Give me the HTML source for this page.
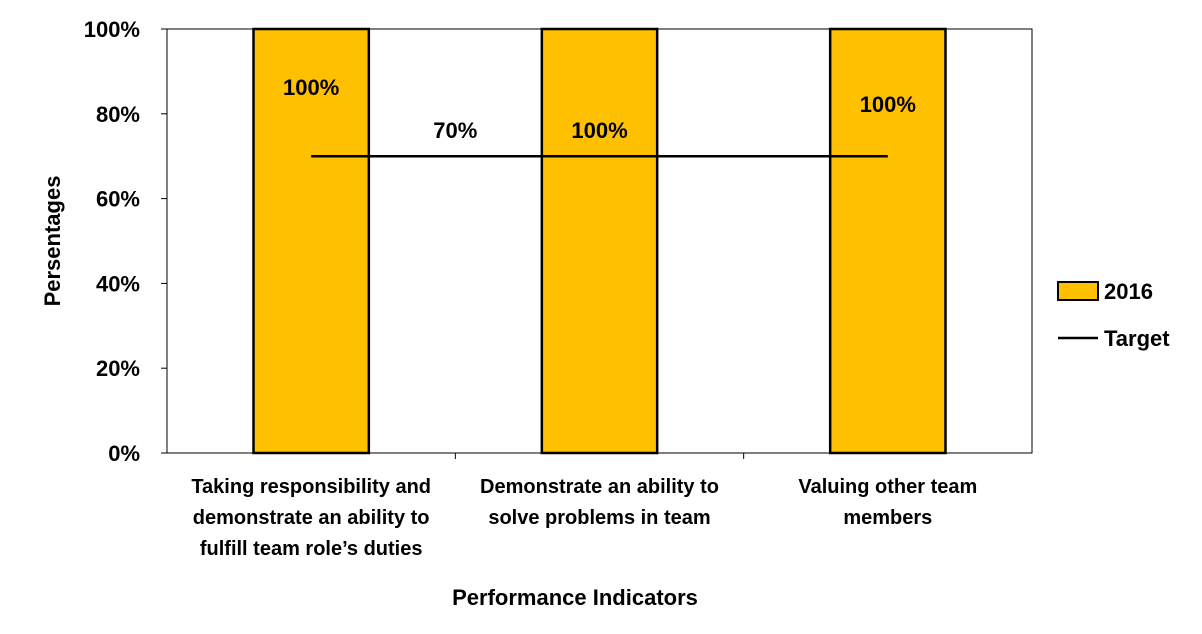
<!DOCTYPE html>
<html><head><meta charset="utf-8">
<style>
body{margin:0;background:#fff;font-family:"Liberation Sans",Arial,sans-serif;}
svg text{font-family:"Liberation Sans",Arial,sans-serif;font-weight:bold;fill:#000;}
</style></head>
<body>
<svg id="chart" width="1202" height="629" viewBox="0 0 1202 629"></svg>
<script>
const categories=[["Taking responsibility and","demonstrate an ability to","fulfill team role’s duties"],["Demonstrate an ability to","solve problems in team"],["Valuing other team","members"]];
const values2016=[100,100,100];
const valueLabels=["100%","100%","100%"];
const targetValue=70;
const targetLabel="70%";
const yTicks=[0,20,40,60,80,100];
const labelDrop=[66,109,83];
const NS="http://www.w3.org/2000/svg";
const svg=document.getElementById('chart');
const L=167,R=1032,T=29,B=453;
const cw=(R-L)/categories.length;
const y=v=>B-(v/100)*(B-T);
const xc=i=>L+cw*(i+0.5);
function mk(tag,attrs,parent){const e=document.createElementNS(NS,tag);for(const k in attrs)e.setAttribute(k,attrs[k]);(parent||svg).appendChild(e);return e;}
const plot=mk('rect',{x:L,y:T,width:R-L,height:B-T,fill:'#fff',stroke:'#000','stroke-width':1});


yTicks.forEach(t=>{
 const tl=mk('line',{x1:L-6,x2:L,y1:y(t),y2:y(t),stroke:'#000'});
 
 
 const tx=mk('text',{x:140,y:y(t)+8,'text-anchor':'end','font-size':22});
 tx.textContent=t+'%';
 
 
});
for(let i=1;i<categories.length;i++){
 const tl=mk('line',{x1:L+cw*i,x2:L+cw*i,y1:B,y2:B+6,stroke:'#000'});
 
 
}
const bw=cw*0.4;
values2016.forEach((v,i)=>{
 const r=mk('rect',{x:xc(i)-bw/2,y:y(v),width:bw,height:B-y(v),fill:'#FFC000',stroke:'#000','stroke-width':2.5});
 
 
 const t=mk('text',{x:xc(i),y:y(v)+labelDrop[i],'text-anchor':'middle','font-size':22});
 t.textContent=valueLabels[i];
 
 
});
const tline=mk('line',{x1:xc(0),x2:xc(categories.length-1),y1:y(targetValue),y2:y(targetValue),stroke:'#000','stroke-width':2.5});


const tlab=mk('text',{x:(xc(0)+xc(1))/2,y:y(targetValue)-18,'text-anchor':'middle','font-size':22});
tlab.textContent=targetLabel;


categories.forEach((lines,i)=>{
 lines.forEach((s,j)=>{
  const t=mk('text',{x:xc(i),y:493+j*31,'text-anchor':'middle','font-size':20});
  t.textContent=s;
  
  
 });
});
const xt=mk('text',{x:575,y:605,'text-anchor':'middle','font-size':22});
xt.textContent='Performance Indicators';


const yt=mk('text',{x:0,y:0,'text-anchor':'middle','font-size':22,transform:'translate(60,241) rotate(-90)'});
yt.textContent='Persentages';


const lg=mk('g',{});


const lb=mk('rect',{x:1058,y:282,width:40,height:18,fill:'#FFC000',stroke:'#000','stroke-width':2},lg);


const l1=mk('text',{x:1104,y:299,'font-size':22},lg);
l1.textContent='2016';


const ll=mk('line',{x1:1058,x2:1098,y1:338,y2:338,stroke:'#000','stroke-width':2.5},lg);


const l2=mk('text',{x:1104,y:346,'font-size':22},lg);
l2.textContent='Target';


</script>
</body></html>
